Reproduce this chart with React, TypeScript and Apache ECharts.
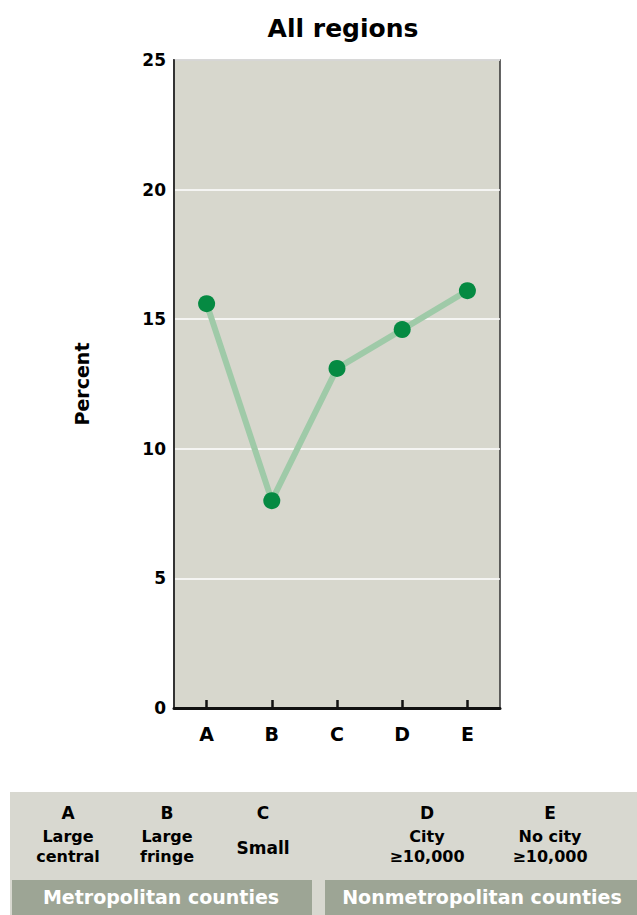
import React, { useEffect, useRef } from "react";
import * as echarts from "echarts";

const categories = ["A", "B", "C", "D", "E"];
const percentValues = [15.6, 8.0, 13.1, 14.6, 16.1];
const yTicks = { min: 0, max: 25, interval: 5 };
const titleText = "All regions";
const yAxisName = "Percent";
const legendColumns = [
  { letter: "A", lines: ["Large", "central"] },
  { letter: "B", lines: ["Large", "fringe"] },
  { letter: "C", lines: ["Small"] },
  { letter: "D", lines: ["City", "≥10,000"] },
  { letter: "E", lines: ["No city", "≥10,000"] },
];
const groupLabels = ["Metropolitan counties", "Nonmetropolitan counties"];

const FONT = "'DejaVu Sans', sans-serif";

export default function App() {
  const ref = useRef<HTMLDivElement>(null);
  useEffect(() => {
    if (!ref.current) return;
    const chart = echarts.init(ref.current, null, { renderer: "svg" });
    const colX = [68, 167, 263, 427, 550];
    const legendTexts: any[] = [];
    const txt = (x: number, y: number, text: string, size: number, fill = "#000") => ({
      type: "text",
      x,
      y,
      style: { text, fill, font: `bold ${size}px ${FONT}`, align: "center", verticalAlign: "middle" },
    });
    legendColumns.forEach((col, i) => {
      legendTexts.push(txt(colX[i], 813, col.letter, 17));
      if (col.lines.length === 1) {
        legendTexts.push(txt(colX[i], 848, col.lines[0], 17));
      } else {
        col.lines.forEach((ln, j) => legendTexts.push(txt(colX[i], 836 + j * 20, ln, 16)));
      }
    });
    chart.setOption({
      animation: false,
      backgroundColor: "#ffffff",
      title: {
        text: titleText,
        left: 338,
        top: 11,
        textAlign: "center",
        textStyle: { fontFamily: FONT, fontWeight: "bold", fontSize: 25, color: "#000" },
      },
      grid: {
        left: 174,
        right: 137,
        top: 60,
        bottom: 207,
        show: true,
        backgroundColor: "#d7d7cd",
        borderColor: "#333",
        borderWidth: 1.5,
      },
      xAxis: {
        type: "category",
        data: categories,
        boundaryGap: true,
        axisLine: { show: true, lineStyle: { color: "#111", width: 3 } },
        axisTick: { show: true, inside: true, alignWithLabel: true, length: 8, lineStyle: { color: "#111", width: 2.5 } },
        axisLabel: { fontFamily: FONT, fontWeight: "bold", fontSize: 19, color: "#000", margin: 16 },
        splitLine: { show: false },
      },
      yAxis: {
        type: "value",
        min: yTicks.min,
        max: yTicks.max,
        interval: yTicks.interval,
        name: yAxisName,
        nameLocation: "middle",
        nameRotate: 90,
        nameGap: 83,
        nameTextStyle: { fontFamily: FONT, fontWeight: "bold", fontSize: 19, color: "#000" },
        axisLine: { show: true, lineStyle: { color: "#333", width: 2 } },
        axisTick: { show: false },
        axisLabel: { fontFamily: FONT, fontWeight: "bold", fontSize: 17, color: "#000", margin: 8 },
        splitLine: { show: true, lineStyle: { color: "#ffffff", width: 1.5 } },
      },
      series: [
        {
          type: "line",
          data: percentValues,
          symbol: "circle",
          symbolSize: 17,
          lineStyle: { color: "#9fcaa8", width: 6 },
          itemStyle: { color: "#058a42" },
          z: 3,
        },
      ],
      graphic: [
        { type: "rect", shape: { x: 10, y: 792, width: 627, height: 123 }, style: { fill: "#d8d8d0" }, z: -1 },
        { type: "rect", shape: { x: 12, y: 880, width: 300, height: 35 }, style: { fill: "#9da595" } },
        { type: "rect", shape: { x: 325, y: 880, width: 312, height: 35 }, style: { fill: "#9da595" } },
        txt(161, 897, groupLabels[0], 19, "#fff"),
        txt(482, 897, groupLabels[1], 19, "#fff"),
        ...legendTexts,
      ],
    });
    return () => chart.dispose();
  }, []);
  return <div ref={ref} style={{ width: 637, height: 915, position: "absolute", left: 0, top: 0 }} />;
}
